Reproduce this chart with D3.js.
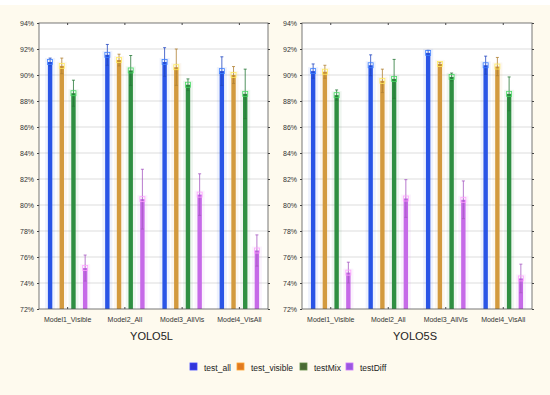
<!DOCTYPE html>
<html>
<head>
<meta charset="utf-8">
<script src="https://cdn.jsdelivr.net/npm/d3@7"></script>
<style>
  body { margin: 0; background: #fefaee; }
  svg { display: block; font-family: "Liberation Sans", Arial, sans-serif; }
</style>
</head>
<body>
<svg id="chart" width="550" height="395"></svg>
<script>
// categories and series
const models = ['Model1_Visible', 'Model2_All', 'Model3_AllVis', 'Model4_VisAll'];
const series = ['test_all', 'test_visible', 'testMix', 'testDiff'];
const yTicks = [72, 74, 76, 78, 80, 82, 84, 86, 88, 90, 92, 94];

// YOLO5L means and error half-widths (per series, per model)
const yolo5lMeans = {
  test_all:     [91.0, 91.55, 91.0, 90.3],
  test_visible: [90.7, 91.15, 90.6, 90.0],
  testMix:      [88.6, 90.35, 89.25, 88.55],
  testDiff:     [75.15, 80.45, 80.8, 76.5]
};
const yolo5lErr = {
  test_all:     [0.3, 0.8, 1.1, 1.1],
  test_visible: [0.6, 0.45, 1.4, 0.65],
  testMix:      [1.0, 1.15, 0.45, 1.9],
  testDiff:     [1.0, 2.3, 1.6, 1.2]
};

// YOLO5S
const yolo5sMeans = {
  test_all:     [90.3, 90.75, 91.7, 90.75],
  test_visible: [90.25, 89.55, 90.85, 90.65],
  testMix:      [88.45, 89.7, 89.85, 88.55],
  testDiff:     [74.8, 80.5, 80.4, 74.35]
};
const yolo5sErr = {
  test_all:     [0.55, 0.8, 0.2, 0.7],
  test_visible: [0.5, 0.9, 0.1, 0.7],
  testMix:      [0.4, 1.5, 0.3, 1.3],
  testDiff:     [0.8, 1.45, 1.45, 1.1]
};

const barColors = {test_all: '#2a55e6', test_visible: '#d39a3e', testMix: '#2f8f42', testDiff: '#c66ae8'};
const legendColors = {test_all: '#3236d8', test_visible: '#e07a22', testMix: '#4a6a34', testDiff: '#9a58e0'};

const svg = d3.select('#chart');

// white strip at top like the reference
svg.append('rect').attr('x', 0).attr('y', 0).attr('width', 550).attr('height', 5).attr('fill', '#ffffff');

const panelTop = 23, panelBottom = 309;

function drawPanel(left, right, title, means, errs) {
  const y = d3.scaleLinear().domain([72, 94]).range([panelBottom, panelTop]);
  const x = d3.scaleBand().domain(models).range([left, right]);
  const inner = d3.scalePoint().domain(series).range([0, x.bandwidth()]).padding(0.95);

  const g = svg.append('g');

  g.append('rect')
      .attr('x', left).attr('y', panelTop)
      .attr('width', right - left).attr('height', panelBottom - panelTop)
      .attr('fill', '#ffffff');

  // grid
  g.selectAll('.grid')
      .data(yTicks.slice(1, -1))
    .join('line')
      .attr('x1', left).attr('x2', right)
      .attr('y1', d => y(d)).attr('y2', d => y(d))
      .attr('stroke', '#d4d4d4').attr('stroke-width', 0.8);

  const data = [];
  models.forEach((m, i) => {
    series.forEach(s => {
      data.push({model: m, s: s, v: means[s][i], e: errs[s][i]});
    });
  });
  const cx = d => x(d.model) + inner(d.s);

  // soft halo behind bars
  g.selectAll('.halo')
      .data(data)
    .join('rect')
      .attr('x', d => cx(d) - 5)
      .attr('y', d => y(d.v) - 4)
      .attr('width', 10)
      .attr('height', d => panelBottom - y(d.v) + 4)
      .attr('fill', d => barColors[d.s])
      .attr('opacity', 0.08);

  g.selectAll('.bar')
      .data(data)
    .join('rect')
      .attr('x', d => cx(d) - 2.2)
      .attr('y', d => y(d.v))
      .attr('width', 4.4)
      .attr('height', d => panelBottom - y(d.v))
      .attr('fill', d => barColors[d.s]);

  // error bars
  const eg = g.selectAll('.err')
      .data(data)
    .join('g')
      .attr('stroke', d => d3.color(barColors[d.s]).darker(0.5))
      .attr('stroke-width', 0.8);
  eg.append('line')
      .attr('x1', cx).attr('x2', cx)
      .attr('y1', d => y(d.v + d.e)).attr('y2', d => y(Math.max(72, d.v - d.e)));
  eg.append('line')
      .attr('x1', d => cx(d) - 1.5).attr('x2', d => cx(d) + 1.5)
      .attr('y1', d => y(d.v + d.e)).attr('y2', d => y(d.v + d.e));
  eg.filter(d => d.v - d.e > 72).append('line')
      .attr('x1', d => cx(d) - 1.5).attr('x2', d => cx(d) + 1.5)
      .attr('y1', d => y(d.v - d.e)).attr('y2', d => y(d.v - d.e));

  // mean marker
  g.selectAll('.mark')
      .data(data)
    .join('rect')
      .attr('x', d => cx(d) - 2.5)
      .attr('y', d => y(d.v) - 2.5)
      .attr('width', 5).attr('height', 5)
      .attr('fill', 'none')
      .attr('stroke', d => d3.color(barColors[d.s]).brighter(1.2))
      .attr('stroke-width', 0.8);

  // frame
  g.append('rect')
      .attr('x', left).attr('y', panelTop)
      .attr('width', right - left).attr('height', panelBottom - panelTop)
      .attr('fill', 'none').attr('stroke', '#555').attr('stroke-width', 0.8);

  // axes
  const yAxis = d3.axisLeft(y).tickValues(yTicks).tickSize(2).tickFormat(d => d + '%');
  const yg = g.append('g').attr('transform', `translate(${left},0)`).call(yAxis);
  yg.select('.domain').remove();
  yg.selectAll('.tick line').attr('stroke', '#444');
  yg.selectAll('.tick text').attr('font-size', 7).attr('fill', '#333').attr('x', -5);

  g.append('g').attr('transform', `translate(${right},0)`)
      .call(d3.axisRight(y).tickValues(yTicks).tickSize(2).tickFormat(''))
      .call(a => a.select('.domain').remove())
      .selectAll('.tick line').attr('stroke', '#444');

  const xAxis = d3.axisBottom(x).tickSize(-2).tickPadding(8);
  const xg = g.append('g').attr('transform', `translate(0,${panelBottom})`).call(xAxis);
  xg.select('.domain').remove();
  xg.selectAll('.tick line').attr('stroke', '#444');
  xg.selectAll('.tick text').attr('font-size', 7).attr('fill', '#333');

  g.append('g').attr('transform', `translate(0,${panelTop})`)
      .call(d3.axisTop(x).tickSize(-2).tickFormat(''))
      .call(a => a.select('.domain').remove())
      .selectAll('.tick line').attr('stroke', '#444');

  g.append('text')
      .attr('x', (left + right) / 2 - 2)
      .attr('y', 340)
      .attr('text-anchor', 'middle')
      .attr('font-size', 11)
      .attr('fill', '#222')
      .text(title);
}

drawPanel(39, 268, 'YOLO5L', yolo5lMeans, yolo5lErr);
drawPanel(302, 532, 'YOLO5S', yolo5sMeans, yolo5sErr);

// legend
const legendX = [190, 237, 300, 346];
const lg = svg.append('g');
series.forEach((s, i) => {
  const item = lg.append('g').attr('transform', `translate(${legendX[i]},363)`);
  item.append('rect')
      .attr('width', 7).attr('height', 7)
      .attr('fill', legendColors[s])
      .attr('stroke', d3.color(legendColors[s]).brighter(0.8)).attr('stroke-width', 0.8);
  item.append('text')
      .attr('x', 14).attr('y', 7.5)
      .attr('font-size', 8.5)
      .attr('fill', '#222')
      .text(s);
});
</script>
</body>
</html>
